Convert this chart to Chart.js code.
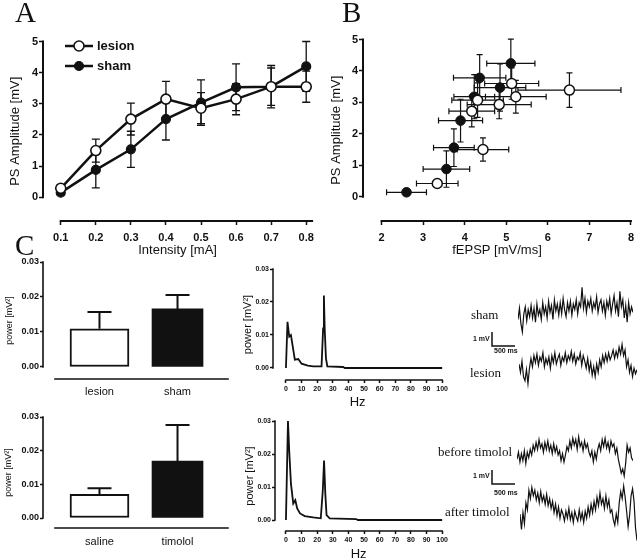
<!DOCTYPE html>
<html>
<head>
<meta charset="utf-8">
<script src="https://cdn.jsdelivr.net/npm/chart.js@4.4.1/dist/chart.umd.min.js"></script>
<style>
html, body { margin: 0; padding: 0; background: #fff; overflow: hidden; }
#fig { position: relative; width: 640px; height: 560px; }
.box { position: absolute; }
.lbl { position: absolute; white-space: nowrap; color: #111; }
.letter { font-family: 'Liberation Serif', serif; font-size: 29px; line-height: 29px; }
.trace-lbl { font-family: 'Liberation Serif', serif; font-size: 13px; line-height: 13px; }
.scale-lbl { font-family: 'Liberation Sans', sans-serif; font-size: 7px; font-weight: bold; line-height: 7px; }
</style>
</head>
<body>
<div id="fig">
  <div class="lbl letter" style="left:15px;top:-2px">A</div>
  <div class="lbl letter" style="left:342px;top:-2px">B</div>
  <div class="lbl letter" style="left:15px;top:231px">C</div>

  <div class="lbl trace-lbl" style="left:471px;top:308px">sham</div>
  <div class="lbl trace-lbl" style="left:470px;top:366px">lesion</div>
  <div class="lbl trace-lbl" style="left:438px;top:445px">before timolol</div>
  <div class="lbl trace-lbl" style="left:445px;top:505px">after timolol</div>

  <div class="lbl scale-lbl" style="left:473px;top:335px">1 mV</div>
  <div class="lbl scale-lbl" style="left:494px;top:347px">500 ms</div>
  <div class="lbl scale-lbl" style="left:473px;top:472px">1 mV</div>
  <div class="lbl scale-lbl" style="left:494px;top:489px">500 ms</div>
</div>
<script>
// ---- datos panel A (curva intensidad / PS) ----
const intensity = [0.1, 0.2, 0.3, 0.4, 0.5, 0.6, 0.7, 0.8];
const lesionAmp = [0.29, 1.50, 2.51, 3.15, 2.86, 3.15, 3.55, 3.55];
const lesionSem = [0.12, 0.37, 0.51, 0.57, 0.50, 0.50, 0.68, 0.50];
const shamAmp = [0.15, 0.88, 1.54, 2.51, 3.04, 3.53, 3.55, 4.20];
const shamSem = [0.06, 0.58, 0.58, 0.67, 0.73, 0.75, 0.60, 0.80];
const ampTicks = [0, 1, 2, 3, 4, 5];

// ---- datos panel B (fEPSP vs PS) ----
const fepspLesion = [3.34, 4.44, 4.17, 4.31, 4.83, 5.13, 5.23, 6.52];
const fepspLesionSem = [0.50, 0.62, 0.55, 0.62, 0.77, 0.65, 0.73, 1.24];
const psLesion = [0.42, 1.50, 2.72, 3.07, 2.93, 3.60, 3.18, 3.39];
const psLesionSem = [0.12, 0.37, 0.50, 0.55, 0.45, 0.50, 0.52, 0.55];
const fepspSham = [2.60, 3.56, 3.74, 3.90, 4.23, 4.36, 4.85, 5.11];
const fepspShamSem = [0.48, 0.56, 0.49, 0.53, 0.49, 0.63, 0.62, 0.58];
const psSham = [0.14, 0.88, 1.56, 2.42, 3.18, 3.78, 3.47, 4.24];
const psShamSem = [0.08, 0.58, 0.60, 0.68, 0.70, 0.74, 0.75, 0.77];
const fepspTicks = [2, 3, 4, 5, 6, 7, 8];

// ---- datos panel C (barras de potencia) ----
const barCatsTop = ['lesion', 'sham'];
const powerTop = [0.0109, 0.0166];
const powerTopSem = [0.0048, 0.0040];
const barCatsBottom = ['saline', 'timolol'];
const powerBottom = [0.0070, 0.0169];
const powerBottomSem = [0.0018, 0.0107];
const powerTicks = [0, 0.01, 0.02, 0.03];

// ---- espectros ----
const hzTop = [0, 1, 2.1, 3.2, 4.7, 5.7, 7.9, 10, 14, 17.5, 21.7, 22.8, 23.8, 24.3, 24.8, 25.6, 26.5, 36.6, 37.7, 100];
const specTop = [0, 0.014, 0.0095, 0.010, 0.0055, 0.0025, 0.0027, 0.0013, 0.0007, 0.0005, 0.0005, 0.0005, 0.012, 0.022, 0.012, 0.003, 0.0005, 0.0003, 0, 0];
const hzBottom = [0, 1.3, 2.1, 3.2, 4.7, 6.0, 7.2, 9, 12, 17.4, 22.3, 23.6, 24.4, 25.2, 26, 28, 45, 46, 100];
const specBottom = [0, 0.030, 0.021, 0.011, 0.005, 0.006, 0.0035, 0.002, 0.0012, 0.0008, 0.0005, 0.009, 0.018, 0.008, 0.0015, 0.0005, 0.0003, 0, 0];
const hzTicks = [0, 10, 20, 30, 40, 50, 60, 70, 80, 90, 100];

// ---- registros (mV), 2.5 s cada uno ----
const traceDur = 2.5;
const shamTrace = [-0.6, 0.2, -0.9, -1.5, -0.2, 0.3, -0.7, 0.1, -0.4, 0.4,
  -0.5, 0.2, -0.8, 0.5, -0.3, 0.1, -0.6, 0.6, -0.2, 0.3,
  -0.5, 0.7, -0.1, 0.4, -0.6, 0.8, 0.0, 0.5, -0.3, 0.6,
  -0.2, 0.9, 0.1, -0.4, 0.6, 0.0, 0.7, -0.3, 0.5, 0.1,
  0.8, -0.2, 0.6, 0.3, 1.7, 0.2, 0.9, -0.1, 0.7, 0.3,
  0.9, 0.0, 0.6, 0.2, 1.0, -0.1, 0.5, 0.8, 0.0, 0.6,
  -0.3, 0.7, 0.2, 0.9, -0.2, 0.5, 1.1, 0.0, 0.6, -0.4,
  1.4, 0.3, 0.8, -0.5, 0.4, -0.8, 0.6, -0.2, 0.3, -0.1];
const lesionTrace = [0.0, -0.6, 0.2, -0.9, -1.2, -0.4, -1.4, -0.3, 0.4, -0.2,
  0.6, 0.1, 0.7, -0.1, 0.5, 0.2, 0.8, -0.2, 0.4, 0.0,
  0.5, -0.3, 0.6, 0.1, 0.8, 0.0, 0.4, 0.7, -0.1, 0.5,
  0.2, 0.8, 0.1, 0.6, 0.3, 0.9, 0.2, 0.7, 0.0, 0.5,
  0.3, 0.8, -0.1, 0.6, 0.2, -0.3, 0.4, -0.5, 0.1, -0.8,
  -0.2, -0.9, 0.0, -0.6, 0.3, -0.2, 0.6, 0.1, 0.7, 0.2,
  0.8, 0.3, 0.6, 1.0, 0.4, 0.9, 0.5, 1.2, 0.7, 1.4,
  0.6, 1.0, -0.2, 0.3, -0.6, -0.1, -0.9, -0.3, -0.7, -0.4];
const beforeTrace = [-0.3, 0.2, -0.5, 0.1, -0.4, 0.3, -0.6, 0.2, -0.2, 0.4,
  0.0, 0.7, 0.3, 0.9, 0.4, 1.1, 0.5, 0.8, 0.2, 0.9,
  0.4, 1.0, 0.3, 0.7, 0.1, 0.8, 0.2, 0.6, 0.0, 0.3,
  -0.4, 0.1, -0.5, 0.0, 0.6, 0.3, 1.0, 0.5, 1.2, 0.7,
  1.1, 0.4, 1.3, 0.6, 0.9, 0.3, 1.0, 0.5, 0.8, 0.2,
  -0.1, 0.3, -0.5, 0.2, -0.3, 0.4, 0.8, 0.3, 1.1, 0.6,
  1.2, 0.5, 0.9, 0.3, 1.0, 0.6, 0.8, 0.1, 0.5, -0.3,
  -0.8, -1.3, -1.0, -1.5, -0.6, 0.7, 0.2, 0.5, -0.2, -0.4];
const afterTrace = [-0.5, -1.6, -0.4, -1.2, 0.3, -0.2, 1.2, 0.6, 1.4, 0.8,
  1.2, 0.5, 1.0, 0.3, 1.1, 0.4, 0.8, 0.2, 0.9, 0.1,
  0.6, -0.1, 0.4, -0.4, 0.2, -0.6, 0.0, -0.8, -0.2, -0.5,
  -1.0, -0.3, -0.8, -0.1, -0.9, -0.4, -1.1, -0.3, -0.7, -1.0,
  -0.2, -0.9, -0.4, -1.1, -0.3, -0.8, 0.0, -0.6, 0.2, -0.4,
  0.4, -0.2, 0.7, 0.1, 1.0, 0.2, 0.6, -0.1, 0.8, 0.0,
  0.5, -0.4, -0.2, -0.9, -1.3, -0.5, -1.1, 0.3, 1.1, 0.6,
  1.5, 0.7, -0.3, -1.4, -0.6, 0.8, 1.3, 0.4, -1.5, -2.4];
// barra de escala: 1 mV / 500 ms
const scaleBarT = [0, 0, 0.5];
const scaleBarMv = [1, 0, 0];

// estilos de barras
const barFill = ['#fff', '#111'];
const barBorder = [2, 0];
const barWidth = [59, 51];

Chart.defaults.font.family = "'Liberation Sans', Arial, sans-serif";
Chart.defaults.color = '#111';
Chart.defaults.animation = false;
Chart.defaults.plugins.legend.display = false;
Chart.defaults.plugins.tooltip.enabled = false;

const pts = (xs, ys) => xs.map((x, i) => ({ x: x, y: ys[i] }));
const timePts = arr => arr.map((v, i) => ({ x: i * traceDur / (arr.length - 1), y: v }));

// barras de error
const errorBars = {
  id: 'errorBars',
  beforeDatasetsDraw(chart) {
    const { ctx, scales: { x, y } } = chart;
    chart.data.datasets.forEach(ds => {
      if (!ds.errY && !ds.errX) return;
      ctx.save();
      ctx.strokeStyle = '#111';
      ctx.lineWidth = ds.errLineWidth || 1.3;
      const cap = ds.errCap || 4;
      ds.data.forEach((p, j) => {
        const px = x.getPixelForValue(p.x), py = y.getPixelForValue(p.y);
        ctx.beginPath();
        if (ds.errY) {
          const top = y.getPixelForValue(p.y + ds.errY[j]);
          const bot = ds.errUpOnly ? py : y.getPixelForValue(p.y - ds.errY[j]);
          ctx.moveTo(px, top); ctx.lineTo(px, bot);
          ctx.moveTo(px - cap, top); ctx.lineTo(px + cap, top);
          if (!ds.errUpOnly) { ctx.moveTo(px - cap, bot); ctx.lineTo(px + cap, bot); }
        }
        if (ds.errX) {
          const l = x.getPixelForValue(p.x - ds.errX[j]), r = x.getPixelForValue(p.x + ds.errX[j]);
          ctx.moveTo(l, py); ctx.lineTo(r, py);
          ctx.moveTo(l, py - cap); ctx.lineTo(l, py + cap);
          ctx.moveTo(r, py - cap); ctx.lineTo(r, py + cap);
        }
        ctx.stroke();
      });
      ctx.restore();
    });
  }
};

// ejes separados (estilo prism)
const axisLines = {
  id: 'axisLines',
  afterDraw(chart, args, o) {
    const { ctx, chartArea: a, scales: { x, y } } = chart;
    ctx.save();
    ctx.strokeStyle = '#111';
    ctx.lineWidth = o.width || 1.5;
    ctx.lineCap = 'square';
    ctx.beginPath();
    if (o.yFrom !== undefined) {
      ctx.moveTo(a.left, y.getPixelForValue(o.yFrom));
      ctx.lineTo(a.left, y.getPixelForValue(o.yTo));
    }
    if (o.xFrom !== undefined) {
      ctx.moveTo(x.getPixelForValue(o.xFrom), a.bottom);
      ctx.lineTo(x.getPixelForValue(o.xTo), a.bottom);
    }
    ctx.stroke();
    ctx.restore();
  }
};

// leyenda con linea + marcador
const lineLegend = {
  id: 'lineLegend',
  afterDraw(chart, args, o) {
    if (o.x === undefined) return;
    const ctx = chart.ctx;
    chart.data.datasets.forEach((ds, i) => {
      const yy = o.y + i * o.gap;
      ctx.save();
      ctx.strokeStyle = '#111';
      ctx.lineWidth = ds.borderWidth;
      ctx.beginPath(); ctx.moveTo(o.x, yy); ctx.lineTo(o.x + o.len, yy); ctx.stroke();
      ctx.beginPath(); ctx.arc(o.x + o.len / 2, yy, ds.pointRadius, 0, Math.PI * 2);
      ctx.fillStyle = ds.pointBackgroundColor; ctx.fill();
      ctx.lineWidth = ds.pointBorderWidth; ctx.stroke();
      ctx.fillStyle = '#111';
      ctx.font = o.font;
      ctx.textBaseline = 'middle';
      ctx.fillText(ds.label, o.x + o.len + 4, yy);
      ctx.restore();
    });
  }
};

function yAxis(o) {
  return {
    type: 'linear', min: o.min, max: o.max,
    afterFit: s => { s.width = o.width; },
    afterBuildTicks: s => { s.ticks = o.ticks.map(v => ({ value: v })); },
    border: { display: false },
    grid: { drawOnChartArea: false, drawTicks: true, tickLength: o.tickLen, tickColor: '#111', tickWidth: 1.5 },
    ticks: { font: { size: o.fs, weight: 'bold' }, padding: o.pad, callback: o.fmt },
    title: { display: true, text: o.title, font: { size: o.tfs }, padding: { top: o.tpad, bottom: 0 } }
  };
}
function xAxis(o) {
  return {
    type: 'linear', min: o.min, max: o.max, offset: false,
    afterFit: s => { s.height = o.height; },
    afterBuildTicks: s => { s.ticks = o.ticks.map(v => ({ value: v })); },
    border: { display: false },
    grid: { display: o.tickLen > 0, offset: false, drawOnChartArea: false, drawTicks: true, tickLength: o.tickLen, tickColor: '#111', tickWidth: 1.5 },
    ticks: { font: { size: o.fs, weight: o.fw || 'bold' }, padding: o.pad, maxRotation: 0, autoSkip: false, callback: o.fmt },
    title: { display: !!o.title, text: o.title, font: { size: o.tfs }, padding: { top: 0, bottom: o.tpad } }
  };
}

function mk(left, top, w, h, cfg) {
  const box = document.createElement('div');
  box.className = 'box';
  box.style.left = left + 'px';
  box.style.top = top + 'px';
  const cv = document.createElement('canvas');
  cv.width = w; cv.height = h;
  cv.style.width = w + 'px'; cv.style.height = h + 'px';
  box.appendChild(cv);
  document.getElementById('fig').insertBefore(box, document.getElementById('fig').firstChild);
  cfg.options = Object.assign({ responsive: false, maintainAspectRatio: false, devicePixelRatio: 1 }, cfg.options);
  return new Chart(cv.getContext('2d'), cfg);
}

// ---- A ----
mk(0, 0, 320, 262, {
  type: 'line',
  data: { datasets: [
    { label: 'lesion', data: pts(intensity, lesionAmp), errY: lesionSem, errCap: 4,
      borderColor: '#111', borderWidth: 2.5, pointRadius: 5, pointBorderWidth: 1.6,
      pointBackgroundColor: '#fff', pointBorderColor: '#111', tension: 0, clip: false },
    { label: 'sham', data: pts(intensity, shamAmp), errY: shamSem, errCap: 4,
      borderColor: '#111', borderWidth: 2.5, pointRadius: 4.5, pointBorderWidth: 1.2,
      pointBackgroundColor: '#111', pointBorderColor: '#111', tension: 0, clip: false }
  ] },
  options: {
    layout: { padding: { top: 41.5, right: 4, left: 0, bottom: 0 } },
    scales: {
      x: xAxis({ min: 0.0494, max: 0.8169, height: 41, ticks: intensity, tickLen: 4, fs: 11, pad: 6,
        fmt: v => v.toFixed(1), title: 'Intensity [mA]', tfs: 13, tpad: 4 }),
      y: yAxis({ min: -0.76, max: 5, width: 43, ticks: ampTicks, tickLen: 4, fs: 11, pad: 1,
        fmt: v => v, title: 'PS Amplitude [mV]', tfs: 13, tpad: 8 })
    },
    plugins: {
      axisLines: { xFrom: 0.1, xTo: 0.8169, yFrom: 0, yTo: 5, width: 2 },
      lineLegend: { x: 65, y: 46, gap: 20, len: 28, font: "bold 13px 'Liberation Sans'" }
    }
  },
  plugins: [errorBars, axisLines, lineLegend]
});

// ---- B ----
mk(320, 0, 320, 262, {
  type: 'scatter',
  data: { datasets: [
    { label: 'lesion', data: pts(fepspLesion, psLesion), errX: fepspLesionSem, errY: psLesionSem, errCap: 3, errLineWidth: 1.2,
      pointRadius: 5, pointBorderWidth: 1.5, pointBackgroundColor: '#fff', pointBorderColor: '#111', clip: false },
    { label: 'sham', data: pts(fepspSham, psSham), errX: fepspShamSem, errY: psShamSem, errCap: 3, errLineWidth: 1.2,
      pointRadius: 4.8, pointBorderWidth: 1, pointBackgroundColor: '#111', pointBorderColor: '#111', clip: false }
  ] },
  options: {
    layout: { padding: { top: 39.5, right: 3, left: 0, bottom: 0 } },
    scales: {
      x: xAxis({ min: 1.553, max: 8, height: 41, ticks: fepspTicks, tickLen: 4, fs: 11, pad: 6,
        fmt: v => v, title: 'fEPSP [mV/ms]', tfs: 13, tpad: 4 }),
      y: yAxis({ min: -0.773, max: 5, width: 43, ticks: ampTicks, tickLen: 4, fs: 11, pad: 1,
        fmt: v => v, title: 'PS Amplitude [mV]', tfs: 13, tpad: 9 })
    },
    plugins: { axisLines: { xFrom: 2, xTo: 8, yFrom: 0, yTo: 5, width: 2 } }
  },
  plugins: [errorBars, axisLines]
});

// ---- C barras ----
function barChart(left, top, h, padTop, xh, ymin, cats, vals, sems, tpad, lpad) {
  return mk(left, top, 230, h, {
    type: 'bar',
    data: { datasets: cats.map((c, i) => ({
      label: c, data: [{ x: i + 1, y: vals[i] }], errY: [sems[i]], errUpOnly: true, errCap: 12, errLineWidth: 2,
      backgroundColor: barFill[i], borderColor: '#111', borderWidth: barBorder[i], borderSkipped: false,
      barThickness: barWidth[i], grouped: false
    })) },
    options: {
      layout: { padding: { top: padTop, right: 2, left: 0, bottom: 0 } },
      scales: {
        x: xAxis({ min: 0.276, max: 2.647, height: xh, ticks: [1, 2], tickLen: 0, fs: 11, fw: 'normal', pad: lpad,
          fmt: (v, i) => cats[i] }),
        y: yAxis({ min: ymin, max: 0.03, width: 43, ticks: powerTicks, tickLen: 3, fs: 9, pad: 1,
          fmt: v => v.toFixed(2), title: 'power [mV²]', tfs: 9, tpad: tpad })
      },
      plugins: { axisLines: { xFrom: 0.4295, xTo: 2.647, yFrom: 0, yTo: 0.03, width: 1.6 } }
    },
    plugins: [errorBars, axisLines]
  });
}
barChart(0, 245, 160, 17, 26, -0.00343, barCatsTop, powerTop, powerTopSem, 4, 6);
barChart(0, 405, 155, 12, 32, -0.00297, barCatsBottom, powerBottom, powerBottomSem, 3, 7);

// ---- espectros ----
function specChart(left, top, h, yw, padTop, xh, xmin, ymin, hz, pw, tpadY, tpadX) {
  return mk(left, top, 230, h, {
    type: 'line',
    data: { datasets: [{ data: pts(hz, pw), borderColor: '#111', borderWidth: 1.8, pointRadius: 0, tension: 0, clip: false }] },
    options: {
      layout: { padding: { top: padTop, right: 7, left: 0, bottom: 0 } },
      scales: {
        x: xAxis({ min: xmin, max: 100, height: xh, ticks: hzTicks, tickLen: 3, fs: 7, pad: 2,
          fmt: v => v, title: 'Hz', tfs: 13, tpad: tpadX }),
        y: yAxis({ min: ymin, max: 0.03, width: yw, ticks: powerTicks, tickLen: 3, fs: 7, pad: 1,
          fmt: v => v.toFixed(2), title: 'power [mV²]', tfs: 11, tpad: tpadY })
      },
      plugins: { axisLines: { xFrom: 0, xTo: 100, yFrom: 0, yTo: 0.03, width: 1.5 } }
    },
    plugins: [axisLines]
  });
}
specChart(220, 255, 158, 53, 14, 33, -8.28, -0.00364, hzTop, specTop, 21, 2.5);
specChart(220, 405, 160, 55, 16, 34, -7.0, -0.00333, hzBottom, specBottom, 23, 2.5);

// ---- registros ----
function traceChart(left, top, w, h, ymin, ymax, arr) {
  return mk(left, top, w, h, {
    type: 'line',
    data: { datasets: [{ data: timePts(arr), borderColor: '#111', borderWidth: 1.2, pointRadius: 0, tension: 0, clip: false }] },
    options: {
      layout: { padding: 0 },
      scales: {
        x: { type: 'linear', display: false, min: 0, max: traceDur },
        y: { type: 'linear', display: false, min: ymin, max: ymax }
      }
    }
  });
}
traceChart(518, 283, 115, 56, -2, 2, shamTrace);
traceChart(519, 336, 118, 56, -2, 2, lesionTrace);
traceChart(517, 427, 116, 56, -2, 2, beforeTrace);
traceChart(520, 479, 117, 70, -3, 2, afterTrace);

// barras de escala
function scaleBar(left, top, h, zeroY) {
  return mk(left, top, 32, h, {
    type: 'line',
    data: { datasets: [{ data: pts(scaleBarT, scaleBarMv), borderColor: '#111', borderWidth: 1.5, pointRadius: 0, tension: 0, clip: false }] },
    options: {
      layout: { padding: 0 },
      scales: {
        x: { type: 'linear', display: false, min: -4 / 46, max: 28 / 46 },
        y: { type: 'linear', display: false, min: -(h - zeroY) / 14, max: zeroY / 14 }
      }
    }
  });
}
scaleBar(488, 328, 22, 18);
scaleBar(488, 464, 24, 20);
</script>
</body>
</html>
